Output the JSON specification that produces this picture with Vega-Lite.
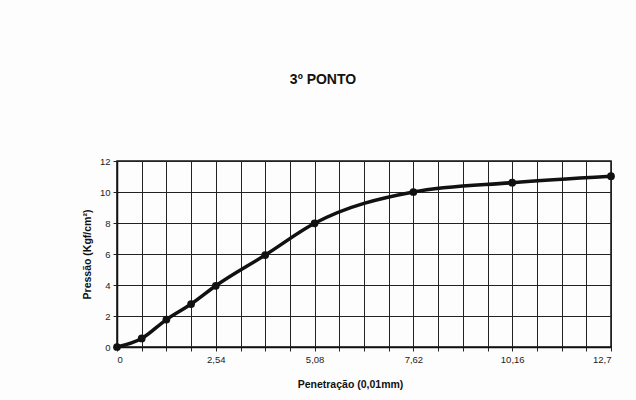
{
  "$schema": "https://vega.github.io/schema/vega-lite/v6.json",
  "width": 494,
  "height": 186,
  "autosize": {"type": "none"},
  "padding": {"left": 117, "top": 161, "right": 25, "bottom": 53},
  "background": "#fdfdfd",
  "title": {
    "text": "3º PONTO",
    "font": "Liberation Sans",
    "fontSize": 14,
    "fontWeight": "bold",
    "color": "#111",
    "anchor": "middle",
    "offset": 69,
    "dx": -41
  },
  "data": {
    "values": [
      {"x": 0, "y": 0},
      {"x": 0.635, "y": 0.55},
      {"x": 1.27, "y": 1.77},
      {"x": 1.905, "y": 2.77},
      {"x": 2.54, "y": 3.95},
      {"x": 3.81, "y": 5.93},
      {"x": 5.08, "y": 7.98},
      {"x": 7.62, "y": 10.0},
      {"x": 10.16, "y": 10.6},
      {"x": 12.7, "y": 11.02}
    ]
  },
  "encoding": {
    "x": {
      "field": "x",
      "type": "quantitative",
      "scale": {"domain": [0, 12.7], "nice": false, "zero": false},
      "axis": {
        "title": "Penetração (0,01mm)",
        "values": [0, 0.635, 1.27, 1.905, 2.54, 3.175, 3.81, 4.445, 5.08, 5.715, 6.35, 6.985, 7.62, 8.255, 8.89, 9.525, 10.16, 10.795, 11.43, 12.065, 12.7],
        "labelExpr": "abs(datum.value/2.54 - round(datum.value/2.54)) < 0.001 ? replace(datum.value + '', '.', ',') : ''",
        "titleX": 233,
        "titlePadding": 16
      }
    },
    "y": {
      "field": "y",
      "type": "quantitative",
      "scale": {"domain": [0, 12], "nice": false},
      "axis": {
        "title": "Pressão (Kgf/cm²)",
        "values": [0, 2, 4, 6, 8, 10, 12],
        "titlePadding": 7
      }
    }
  },
  "layer": [
    {
      "mark": {"type": "line", "color": "#111", "strokeWidth": 3.5, "interpolate": "monotone"}
    },
    {
      "mark": {"type": "point", "filled": true, "color": "#111", "size": 60, "opacity": 1}
    }
  ],
  "config": {
    "view": {"stroke": "#111", "strokeWidth": 1.5},
    "axis": {
      "grid": true,
      "gridColor": "#222",
      "gridWidth": 1,
      "gridOpacity": 1,
      "domainColor": "#111",
      "domainWidth": 1.5,
      "tickColor": "#222",
      "tickSize": 4,
      "labelFont": "Liberation Sans",
      "labelFontSize": 9.5,
      "labelColor": "#222",
      "labelPadding": 3,
      "titleFont": "Liberation Sans",
      "titleFontSize": 10.5,
      "titleFontWeight": "bold",
      "titleColor": "#111"
    }
  }
}
